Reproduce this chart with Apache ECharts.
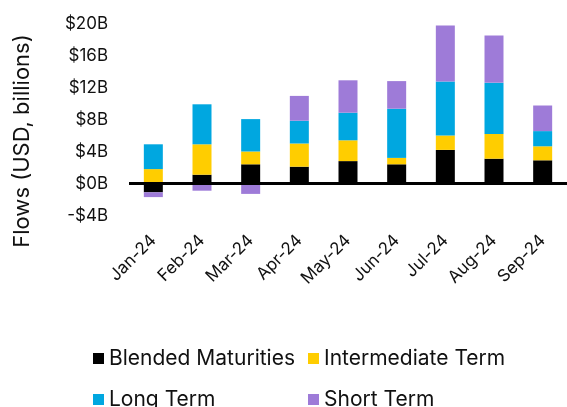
<!DOCTYPE html>
<html>
<head>
<meta charset="utf-8">
<title>Flows</title>
<script src="https://cdn.jsdelivr.net/npm/echarts@6/dist/echarts.min.js"></script>
<style>
    html, body { margin: 0; padding: 0; background: #fff; }
    #chart1 { width: 567px; height: 407px; }
</style>
</head>
<body>
<div id="chart1"></div>
<script>
// data, USD billions
var months = ['Jan-24', 'Feb-24', 'Mar-24', 'Apr-24', 'May-24', 'Jun-24', 'Jul-24', 'Aug-24', 'Sep-24'];
var blended = [-1.1, 1.1, 2.4, 2.1, 2.8, 2.4, 4.2, 3.1, 2.9];
var intermediate = [1.8, 3.8, 1.6, 2.9, 2.6, 0.8, 1.8, 3.1, 1.75];
var longTerm = [3.1, 5.0, 4.05, 2.85, 3.45, 6.15, 6.75, 6.4, 1.9];
var shortTerm = [-0.6, -0.9, -1.3, 3.1, 4.05, 3.45, 7.0, 5.9, 3.2];
var yTicks = { min: -4, max: 20, step: 4 };

var font = 'Inter';
var chart1 = echarts.init(document.getElementById('chart1'));

function bar(name, data, color) {
    return {
        name: name,
        type: 'bar',
        stack: 'flows',
        barWidth: 19,
        data: data,
        itemStyle: { color: color },
        emphasis: { disabled: true }
    };
}

var series = [
    bar('Blended Maturities', blended, '#000000'),
    bar('Intermediate Term', intermediate, '#ffcd00'),
    bar('Long Term', longTerm, '#00a7e0'),
    bar('Short Term', shortTerm, '#9e7bd8')
];
//zero line
series[0].markLine = {
    silent: true,
    symbol: 'none',
    z: 10,
    label: { show: false },
    lineStyle: { color: '#000', width: 3, type: 'solid' },
    data: [{ yAxis: 0 }]
};

var option = {
    animation: false,
    textStyle: { fontFamily: font },
    grid: { left: 129, right: -2, top: 23.5, bottom: 191.5 },
    legend: {
        left: 93,
        top: 343,
        width: 440,
        padding: 0,
        itemWidth: 11,
        itemHeight: 11,
        itemGap: 10,
        icon: 'rect',
        selectedMode: false,
        textStyle: { fontFamily: font, fontSize: 21, color: '#111', width: 189, lineHeight: 31 },
        data: ['Blended Maturities', 'Intermediate Term', 'Long Term', 'Short Term']
    },
    xAxis: {
        type: 'category',
        data: months,
        axisLine: { show: false, onZero: false },
        axisTick: { show: false },
        axisLabel: {
            rotate: 45,
            margin: 22,
            interval: 0,
            fontFamily: font,
            fontSize: 17,
            color: '#111'
        }
    },
    yAxis: {
        type: 'value',
        min: yTicks.min,
        max: yTicks.max,
        interval: yTicks.step,
        splitLine: { show: false },
        axisLine: { show: false },
        axisTick: { show: false },
        axisLabel: {
            margin: 21,
            fontFamily: font,
            fontSize: 17,
            color: '#111',
            formatter: function (v) {
                return (v < 0 ? '-' : '') + '$' + Math.abs(v) + 'B';
            }
        }
    },
    graphic: [{
        type: 'text',
        x: 22,
        y: 141,
        rotation: Math.PI / 2,
        style: {
            text: 'Flows (USD, billions)',
            fontFamily: font,
            fontSize: 22,
            fill: '#111',
            align: 'center',
            verticalAlign: 'middle'
        }
    }],
    series: series
};
chart1.setOption(option);
</script>
</body>
</html>
